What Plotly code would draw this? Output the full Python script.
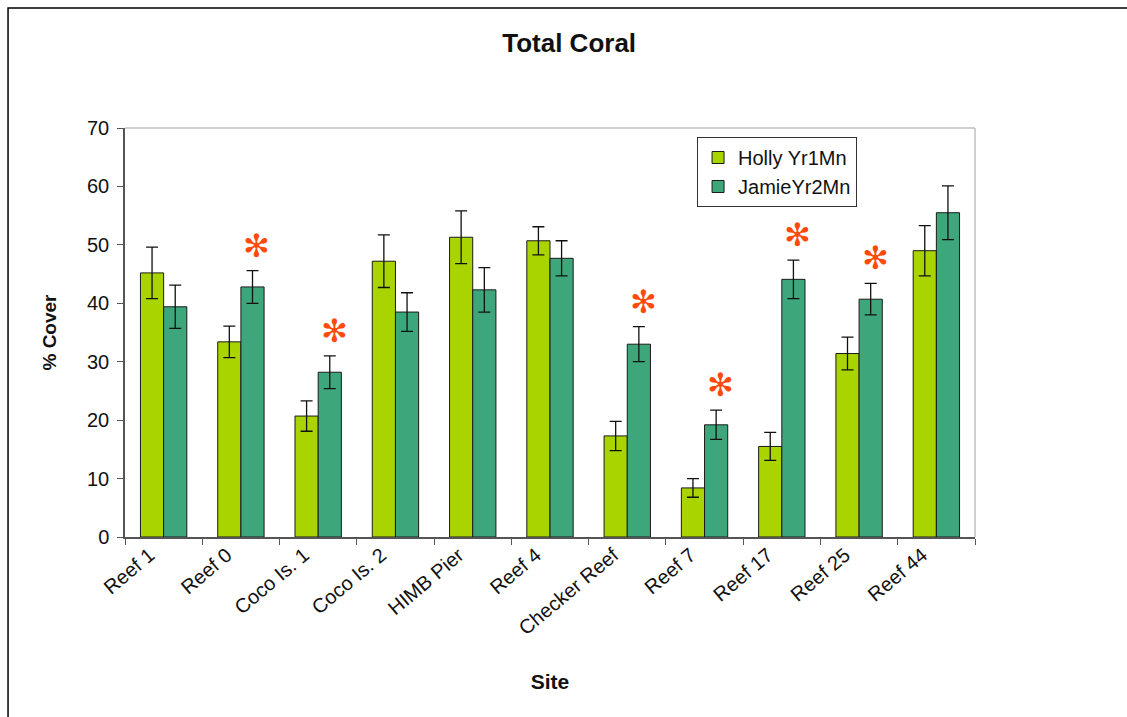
import plotly.graph_objects as go

sites = ["Reef 1", "Reef 0", "Coco Is. 1", "Coco Is. 2", "HIMB Pier", "Reef 4",
         "Checker Reef", "Reef 7", "Reef 17", "Reef 25", "Reef 44"]
holly_mean = [45.2, 33.4, 20.7, 47.2, 51.3, 50.7, 17.3, 8.4, 15.5, 31.4, 49.0]
holly_err = [4.4, 2.7, 2.6, 4.5, 4.5, 2.4, 2.5, 1.6, 2.4, 2.8, 4.3]
jamie_mean = [39.4, 42.8, 28.2, 38.5, 42.3, 47.7, 33.0, 19.2, 44.1, 40.7, 55.5]
jamie_err = [3.7, 2.8, 2.8, 3.3, 3.8, 3.0, 3.0, 2.5, 3.3, 2.7, 4.6]
# sites where the year-2 mean differs significantly from year 1
significant = ["Reef 0", "Coco Is. 1", "Checker Reef", "Reef 7", "Reef 17", "Reef 25"]

HOLLY = "#AAD400"
JAMIE = "#3DA77B"
FONT = "Liberation Sans, Arial, sans-serif"

fig = go.Figure()
fig.add_trace(go.Bar(
    name="Holly Yr1Mn", x=sites, y=holly_mean,
    marker=dict(color=HOLLY, line=dict(color="#1a1a1a", width=1)),
    error_y=dict(type="data", array=holly_err, color="#111111", thickness=1.3, width=6),
))
fig.add_trace(go.Bar(
    name="JamieYr2Mn", x=sites, y=jamie_mean,
    marker=dict(color=JAMIE, line=dict(color="#1a1a1a", width=1)),
    error_y=dict(type="data", array=jamie_err, color="#111111", thickness=1.3, width=6),
))

# significance markers above the year-2 bars
for s in significant:
    i = sites.index(s)
    fig.add_annotation(
        x=s, y=jamie_mean[i] + jamie_err[i], xref="x", yref="y",
        text="✻", showarrow=False, xshift=16, yshift=25,
        font=dict(size=32, color="#FF4A0A", family="DejaVu Sans"),
    )

fig.update_layout(
    width=1127, height=717,
    margin=dict(l=125, r=152, t=128, b=180),
    paper_bgcolor="white", plot_bgcolor="white",
    barmode="group", bargap=0.4, bargroupgap=0.0,
    font=dict(family=FONT, size=19, color="#111111"),
    title=dict(text="<b>Total Coral</b>", x=0.505, xanchor="center", y=0.94,
               yanchor="middle", font=dict(size=26, family=FONT)),
    showlegend=True,
    legend=dict(x=0.673, y=0.978, xanchor="left", yanchor="top",
                bordercolor="#333333", borderwidth=1, bgcolor="white",
                font=dict(size=20, family=FONT), itemwidth=30,
                tracegroupgap=4),
    xaxis=dict(
        title=dict(text="<b>Site</b>", font=dict(size=21), standoff=36),
        tickangle=-40, tickson="boundaries", ticks="outside", ticklen=6,
        tickcolor="#555555", showline=True, linecolor="#555555", linewidth=1.5,
        mirror=False, tickfont=dict(size=20), ticklabelshift=-14,
        ticklabelstandoff=-3,
    ),
    yaxis=dict(
        title=dict(text="<b>% Cover</b>", font=dict(size=19), standoff=25),
        range=[0, 70], dtick=10, ticks="outside", ticklen=6,
        tickcolor="#555555", showline=True, linecolor="#555555", linewidth=1.5,
        showgrid=False, zeroline=False, tickfont=dict(size=20),
        ticklabelstandoff=4,
    ),
    shapes=[
        # light plot-area frame on the top and right
        dict(type="line", xref="paper", yref="paper", x0=0, x1=1, y0=1, y1=1,
             line=dict(color="#c0c0c0", width=1.5)),
        dict(type="line", xref="paper", yref="paper", x0=1, x1=1, y0=0, y1=1,
             line=dict(color="#c0c0c0", width=1.5)),
        # outer chart border
        dict(type="rect", xref="paper", yref="paper", x0=-0.1376, x1=1.3,
             y0=-0.5, y1=1.2934, line=dict(color="black", width=1.5)),
    ],
)

fig.write_html("out.html")
